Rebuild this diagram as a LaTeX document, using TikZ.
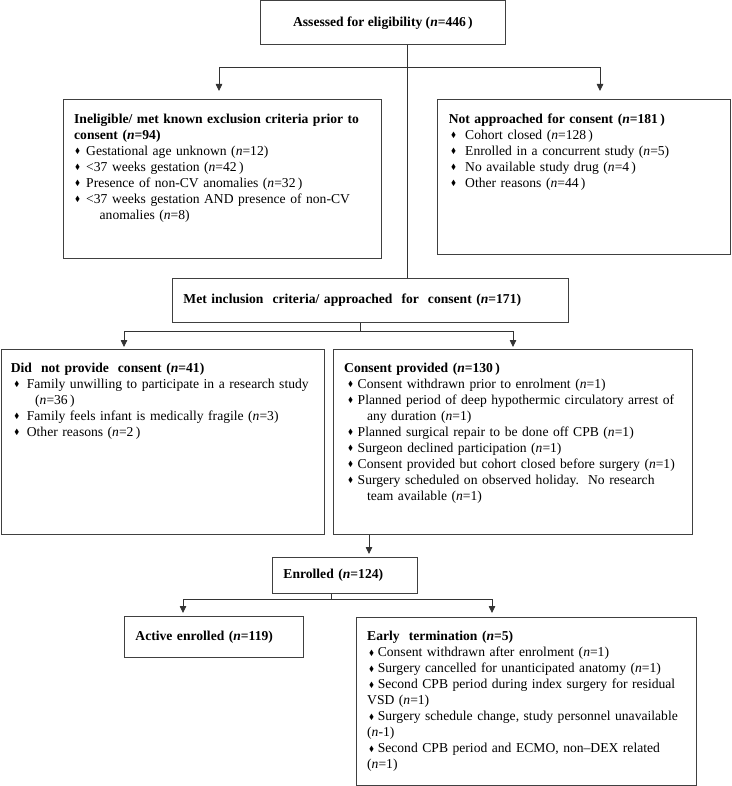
\documentclass[tikz,border=0pt]{standalone}
\usepackage{fontspec}
\setmainfont{Liberation Serif}
\usepackage{amssymb}
\usetikzlibrary{arrows.meta,positioning,calc}

\newcommand{\dia}{\raisebox{1.5pt}{\scalebox{0.55}{$\blacklozenge$}}}
\newcommand{\itm}[2]{\hspace*{#1}\makebox[#2][l]{\dia}}
\newcommand{\nn}{\textit{n}}
\newcommand{\nb}{\textbf{\textit{n}}}

\colorlet{box edge}{black!75}
\tikzset{
  box/.style={draw=box edge, line width=0.9pt, rectangle, anchor=north west, inner sep=0pt},
  boxtext/.style={anchor=north west, inner sep=0pt, align=left, text width=400pt}
  }
\tikzstyle{onebox} = [box, align=left, inner xsep=11pt]
\tikzstyle{link} = [draw=black!80, line width=0.8pt]
\tikzstyle{arrow} = [link, -{Triangle[width=6.5pt,length=7pt]}]

\begin{document}
\begin{tikzpicture}[x=1pt, y=-1pt, font=\fontsize{13.6}{16}\selectfont]
    \useasboundingbox (0,0) rectangle (731,786);

    % boxes
    \node[box, minimum width=245pt, minimum height=44pt] (assess) at (260,0.5)
      {\textbf{Assessed for eligibility (\nb=446\,)}};
    \node[box, minimum width=318pt, minimum height=159pt] (inelig) at (63,99) {};
    \node[box, minimum width=293pt, minimum height=155pt] (notappr) at (437,99) {};
    \node[onebox, text width=374pt, minimum height=44pt] (met) at (172,278)
      {\textbf{Met inclusion\ \ criteria/ approached\ \ for\ \ consent (\nb=171)}};
    \node[box, minimum width=323.5pt, minimum height=185pt] (nocons) at (0.5,349) {};
    \node[box, minimum width=359pt, minimum height=185pt] (cons) at (333,349) {};
    \node[onebox, text width=123pt, minimum height=36pt] (enrol) at (272,557)
      {\textbf{Enrolled (\nb=124)}};
    \node[onebox, text width=157pt, minimum height=41pt] (active) at (124,616)
      {\textbf{Active\ enrolled (\nb=119)}};
    \node[box, minimum width=340pt, minimum height=167.5pt] (early) at (356,617) {};

    % box texts
    \node[boxtext, below right=12.8pt and 11pt of inelig.north west] (inelig-t)
      {\strut\textbf{Ineligible/ met known exclusion criteria prior to}\\
       \textbf{consent (\nb=94)}\\
       \itm{1pt}{11pt}Gestational age unknown (\nn=12)\\
       \itm{1pt}{11pt}<37 weeks gestation (\nn=42\,)\\
       \itm{1pt}{11pt}Presence of non-CV anomalies (\nn=32\,)\\
       \itm{1pt}{11pt}<37 weeks gestation AND presence of non-CV\\
       \hspace*{25.5pt}anomalies (\nn=8)};
    \node[boxtext, below right=12.8pt and 11.6pt of notappr.north west] (notappr-t)
      {\strut\textbf{Not approached for consent (\nb=181\,)}\\
       \itm{2.4pt}{14pt}Cohort closed (\nn=128\,)\\
       \itm{2.4pt}{14pt}Enrolled in a concurrent study (\nn=5)\\
       \itm{2.4pt}{14pt}No available study drug (\nn=4\,)\\
       \itm{2.4pt}{14pt}Other reasons (\nn=44\,)};
    \node[boxtext, below right=11.8pt and 10.2pt of nocons.north west] (nocons-t)
      {\strut\textbf{Did\ \ not provide\ \ consent (\nb=41)}\\
       \itm{3.5pt}{12.5pt}Family unwilling to participate in a research study\\
       \hspace*{24.3pt}(\nn=36\,)\\
       \itm{3.5pt}{12.5pt}Family feels infant is medically fragile (\nn=3)\\
       \itm{3.5pt}{12.5pt}Other reasons (\nn=2\,)};
    \node[boxtext, below right=11.8pt and 11pt of cons.north west] (cons-t)
      {\strut\textbf{Consent provided (\nb=130\,)}\\
       \itm{4pt}{9.5pt}Consent withdrawn prior to enrolment (\nn=1)\\
       \itm{4pt}{9.5pt}Planned period of deep hypothermic circulatory arrest of\\
       \hspace*{22.8pt}any duration (\nn=1)\\
       \itm{4pt}{9.5pt}Planned surgical repair to be done off CPB (\nn=1)\\
       \itm{4pt}{9.5pt}Surgeon declined participation (\nn=1)\\
       \itm{4pt}{9.5pt}Consent provided but cohort closed before surgery (\nn=1)\\
       \itm{4pt}{9.5pt}Surgery scheduled on observed holiday.\ \ No research\\
       \hspace*{22.8pt}team available (\nn=1)};
    \node[boxtext, below right=12.5pt and 11pt of early.north west] (early-t)
      {\strut\textbf{Early\ \ termination (\nb=5)}\\
       \itm{2pt}{8.6pt}Consent withdrawn after enrolment (\nn=1)\\
       \itm{2pt}{8.6pt}Surgery cancelled for unanticipated anatomy (\nn=1)\\
       \itm{2pt}{8.6pt}Second CPB period during index surgery for residual\\
       VSD (\nn=1)\\
       \itm{2pt}{8.6pt}Surgery schedule change, study personnel unavailable\\
       (\nn-1)\\
       \itm{2pt}{8.6pt}Second CPB period and ECMO, non--DEX related\\
       (\nn=1)};

    % split points
    \coordinate (s1) at (407,67);
    \coordinate (l1) at (219,67);
    \coordinate (r1) at (600,67);
    \coordinate (s2) at (360,331);
    \coordinate (l2) at (124,331);
    \coordinate (r2) at (513,331);
    \coordinate (e1) at (369,545);
    \coordinate (s3) at (331,599);
    \coordinate (l3) at (183,599);
    \coordinate (r3) at (492,599);

    \path[link] (assess.south -| s1) -- (met.north -| s1);
    \path[link] (l1) -- (r1);
    \path[link] (met.south -| s2) -- (s2);
    \path[link] (l2) -- (r2);
    \path[link] (enrol.south -| s3) -- (s3);
    \path[link] (l3) -- (r3);

    \foreach \from/\to/\gap in {l1/inelig/8pt, r1/notappr/8pt, l2/nocons/2pt, r2/cons/2pt, l3/active/3pt, r3/early/4pt}
      \path[arrow, shorten >=\gap] (\from) -- (\to.north -| \from);
    \path[arrow, shorten >=3pt] (cons.south -| e1) -- (enrol.north -| e1);

\end{tikzpicture}
\end{document}
